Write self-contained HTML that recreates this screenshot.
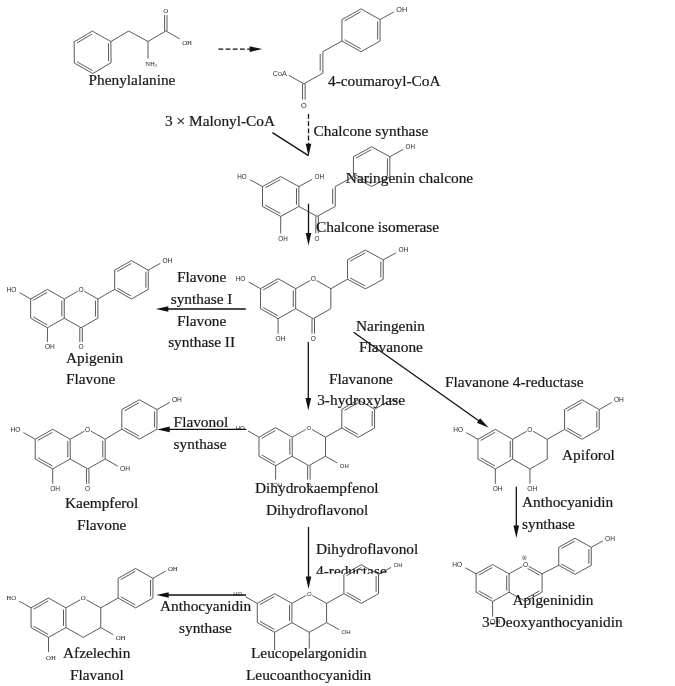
<!DOCTYPE html>
<html><head><meta charset="utf-8"><title>Flavonoid biosynthesis pathway</title>
<style>html,body{margin:0;padding:0;background:#fff}svg{display:block;will-change:transform}</style></head>
<body><svg width="675" height="686" viewBox="0 0 675 686" shape-rendering="geometricPrecision">
<rect width="675" height="686" fill="#fff"/>
<line x1="92.41" y1="31.10" x2="110.87" y2="41.54" stroke="#3c3c3c" stroke-width="0.85"/>
<line x1="110.87" y1="41.54" x2="111.05" y2="62.74" stroke="#3c3c3c" stroke-width="0.85"/>
<line x1="108.48" y1="43.26" x2="108.64" y2="61.06" stroke="#3c3c3c" stroke-width="0.85"/>
<line x1="111.05" y1="62.74" x2="92.79" y2="73.50" stroke="#3c3c3c" stroke-width="0.85"/>
<line x1="92.79" y1="73.50" x2="74.33" y2="63.06" stroke="#3c3c3c" stroke-width="0.85"/>
<line x1="92.49" y1="70.57" x2="76.99" y2="61.81" stroke="#3c3c3c" stroke-width="0.85"/>
<line x1="74.33" y1="63.06" x2="74.15" y2="41.86" stroke="#3c3c3c" stroke-width="0.85"/>
<line x1="74.15" y1="41.86" x2="92.41" y2="31.10" stroke="#3c3c3c" stroke-width="0.85"/>
<line x1="76.83" y1="43.07" x2="92.17" y2="34.03" stroke="#3c3c3c" stroke-width="0.85"/>
<line x1="110.87" y1="41.54" x2="128.70" y2="31.00" stroke="#3c3c3c" stroke-width="0.85"/>
<line x1="128.70" y1="31.00" x2="148.00" y2="41.50" stroke="#3c3c3c" stroke-width="0.85"/>
<line x1="148.00" y1="41.50" x2="165.80" y2="31.00" stroke="#3c3c3c" stroke-width="0.85"/>
<line x1="165.80" y1="31.00" x2="179.58" y2="38.79" stroke="#3c3c3c" stroke-width="0.85"/>
<line x1="164.60" y1="31.00" x2="164.60" y2="15.10" stroke="#3c3c3c" stroke-width="0.85"/>
<line x1="167.00" y1="31.00" x2="167.00" y2="15.10" stroke="#3c3c3c" stroke-width="0.85"/>
<text x="163.35" y="12.75" font-size="6.8" font-family='"Liberation Serif",serif' text-anchor="start" fill="#262626">O</text>
<text x="182.15" y="44.65" font-size="6.8" font-family='"Liberation Serif",serif' text-anchor="start" fill="#262626">OH</text>
<line x1="148.00" y1="41.50" x2="148.00" y2="58.50" stroke="#3c3c3c" stroke-width="0.85"/>
<text x="145.2" y="65.9" font-size="6.8" font-family='"Liberation Serif",serif' fill="#333">NH<tspan font-size="4.6" dy="1.4">2</tspan></text>
<line x1="361.00" y1="8.90" x2="380.05" y2="19.60" stroke="#3c3c3c" stroke-width="0.85"/>
<line x1="380.05" y1="19.60" x2="380.05" y2="41.00" stroke="#3c3c3c" stroke-width="0.85"/>
<line x1="377.65" y1="21.30" x2="377.65" y2="39.30" stroke="#3c3c3c" stroke-width="0.85"/>
<line x1="380.05" y1="41.00" x2="361.00" y2="51.70" stroke="#3c3c3c" stroke-width="0.85"/>
<line x1="361.00" y1="51.70" x2="341.95" y2="41.00" stroke="#3c3c3c" stroke-width="0.85"/>
<line x1="360.69" y1="48.77" x2="344.60" y2="39.74" stroke="#3c3c3c" stroke-width="0.85"/>
<line x1="341.95" y1="41.00" x2="341.95" y2="19.60" stroke="#3c3c3c" stroke-width="0.85"/>
<line x1="341.95" y1="19.60" x2="361.00" y2="8.90" stroke="#3c3c3c" stroke-width="0.85"/>
<line x1="344.60" y1="20.86" x2="360.69" y2="11.83" stroke="#3c3c3c" stroke-width="0.85"/>
<line x1="380.05" y1="19.60" x2="393.70" y2="11.94" stroke="#3c3c3c" stroke-width="0.85"/>
<text x="396.27" y="11.53" font-size="7.3" font-family='"Liberation Sans",sans-serif' text-anchor="start" fill="#262626">OH</text>
<line x1="341.95" y1="41.00" x2="322.89" y2="51.70" stroke="#3c3c3c" stroke-width="0.85"/>
<line x1="322.89" y1="51.70" x2="322.89" y2="73.10" stroke="#3c3c3c" stroke-width="0.85"/>
<line x1="320.19" y1="54.10" x2="320.19" y2="70.70" stroke="#3c3c3c" stroke-width="0.85"/>
<line x1="322.89" y1="73.10" x2="303.84" y2="83.80" stroke="#3c3c3c" stroke-width="0.85"/>
<line x1="305.14" y1="83.80" x2="305.14" y2="99.60" stroke="#3c3c3c" stroke-width="0.85"/>
<line x1="302.54" y1="83.80" x2="302.54" y2="99.60" stroke="#3c3c3c" stroke-width="0.85"/>
<text x="301.00" y="107.83" font-size="7.3" font-family='"Liberation Sans",sans-serif' text-anchor="start" fill="#262626">O</text>
<line x1="303.84" y1="83.80" x2="288.71" y2="75.30" stroke="#3c3c3c" stroke-width="0.85"/>
<text x="286.9" y="75.70" font-size="7.3" font-family='"Liberation Sans",sans-serif' text-anchor="end" fill="#333">CoA</text>
<line x1="262.51" y1="186.55" x2="280.70" y2="176.60" stroke="#3c3c3c" stroke-width="0.85"/>
<line x1="265.16" y1="187.84" x2="280.36" y2="179.52" stroke="#3c3c3c" stroke-width="0.85"/>
<line x1="280.70" y1="176.60" x2="298.89" y2="186.55" stroke="#3c3c3c" stroke-width="0.85"/>
<line x1="298.89" y1="186.55" x2="298.89" y2="206.45" stroke="#3c3c3c" stroke-width="0.85"/>
<line x1="296.49" y1="188.25" x2="296.49" y2="204.75" stroke="#3c3c3c" stroke-width="0.85"/>
<line x1="298.89" y1="206.45" x2="280.70" y2="216.40" stroke="#3c3c3c" stroke-width="0.85"/>
<line x1="280.70" y1="216.40" x2="262.51" y2="206.45" stroke="#3c3c3c" stroke-width="0.85"/>
<line x1="280.36" y1="213.48" x2="265.16" y2="205.16" stroke="#3c3c3c" stroke-width="0.85"/>
<line x1="262.51" y1="206.45" x2="262.51" y2="186.55" stroke="#3c3c3c" stroke-width="0.85"/>
<line x1="262.51" y1="186.55" x2="250.03" y2="179.72" stroke="#3c3c3c" stroke-width="0.85"/>
<text x="246.78" y="178.87" font-size="6.3" font-family='"Liberation Sans",sans-serif' text-anchor="end" fill="#262626">HO</text>
<line x1="280.70" y1="216.40" x2="280.70" y2="233.29" stroke="#3c3c3c" stroke-width="0.85"/>
<text x="278.25" y="240.56" font-size="6.3" font-family='"Liberation Sans",sans-serif' text-anchor="start" fill="#262626">OH</text>
<line x1="353.45" y1="176.60" x2="353.45" y2="156.70" stroke="#3c3c3c" stroke-width="0.85"/>
<line x1="353.45" y1="156.70" x2="371.63" y2="146.75" stroke="#3c3c3c" stroke-width="0.85"/>
<line x1="356.09" y1="157.99" x2="371.29" y2="149.67" stroke="#3c3c3c" stroke-width="0.85"/>
<line x1="371.63" y1="146.75" x2="389.82" y2="156.70" stroke="#3c3c3c" stroke-width="0.85"/>
<line x1="389.82" y1="156.70" x2="389.82" y2="176.60" stroke="#3c3c3c" stroke-width="0.85"/>
<line x1="387.42" y1="158.40" x2="387.42" y2="174.90" stroke="#3c3c3c" stroke-width="0.85"/>
<line x1="389.82" y1="176.60" x2="371.63" y2="186.55" stroke="#3c3c3c" stroke-width="0.85"/>
<line x1="371.63" y1="186.55" x2="353.45" y2="176.60" stroke="#3c3c3c" stroke-width="0.85"/>
<line x1="371.29" y1="183.63" x2="356.09" y2="175.31" stroke="#3c3c3c" stroke-width="0.85"/>
<line x1="389.82" y1="156.70" x2="403.18" y2="149.39" stroke="#3c3c3c" stroke-width="0.85"/>
<text x="405.56" y="149.02" font-size="6.3" font-family='"Liberation Sans",sans-serif' text-anchor="start" fill="#262626">OH</text>
<line x1="298.89" y1="186.55" x2="312.25" y2="179.24" stroke="#3c3c3c" stroke-width="0.85"/>
<text x="314.62" y="178.87" font-size="6.3" font-family='"Liberation Sans",sans-serif' text-anchor="start" fill="#262626">OH</text>
<line x1="298.89" y1="206.45" x2="317.07" y2="216.40" stroke="#3c3c3c" stroke-width="0.85"/>
<line x1="318.32" y1="216.40" x2="318.32" y2="233.29" stroke="#3c3c3c" stroke-width="0.85"/>
<line x1="315.82" y1="216.40" x2="315.82" y2="233.29" stroke="#3c3c3c" stroke-width="0.85"/>
<text x="314.62" y="240.56" font-size="6.3" font-family='"Liberation Sans",sans-serif' text-anchor="start" fill="#262626">O</text>
<line x1="317.07" y1="216.40" x2="335.26" y2="206.45" stroke="#3c3c3c" stroke-width="0.85"/>
<line x1="335.26" y1="206.45" x2="335.26" y2="186.55" stroke="#3c3c3c" stroke-width="0.85"/>
<line x1="332.66" y1="204.25" x2="332.66" y2="188.75" stroke="#3c3c3c" stroke-width="0.85"/>
<line x1="335.26" y1="186.55" x2="353.45" y2="176.60" stroke="#3c3c3c" stroke-width="0.85"/>
<line x1="260.52" y1="288.70" x2="278.10" y2="278.70" stroke="#3c3c3c" stroke-width="0.85"/>
<line x1="263.18" y1="289.95" x2="277.81" y2="281.63" stroke="#3c3c3c" stroke-width="0.85"/>
<line x1="278.10" y1="278.70" x2="295.68" y2="288.70" stroke="#3c3c3c" stroke-width="0.85"/>
<line x1="295.68" y1="288.70" x2="295.68" y2="308.70" stroke="#3c3c3c" stroke-width="0.85"/>
<line x1="293.28" y1="290.40" x2="293.28" y2="307.00" stroke="#3c3c3c" stroke-width="0.85"/>
<line x1="295.68" y1="308.70" x2="278.10" y2="318.70" stroke="#3c3c3c" stroke-width="0.85"/>
<line x1="278.10" y1="318.70" x2="260.52" y2="308.70" stroke="#3c3c3c" stroke-width="0.85"/>
<line x1="277.81" y1="315.77" x2="263.18" y2="307.45" stroke="#3c3c3c" stroke-width="0.85"/>
<line x1="260.52" y1="308.70" x2="260.52" y2="288.70" stroke="#3c3c3c" stroke-width="0.85"/>
<line x1="260.52" y1="288.70" x2="248.59" y2="281.91" stroke="#3c3c3c" stroke-width="0.85"/>
<text x="245.51" y="281.08" font-size="6.6" font-family='"Liberation Sans",sans-serif' text-anchor="end" fill="#262626">HO</text>
<line x1="278.10" y1="318.70" x2="278.10" y2="333.70" stroke="#3c3c3c" stroke-width="0.85"/>
<text x="275.53" y="341.08" font-size="6.6" font-family='"Liberation Sans",sans-serif' text-anchor="start" fill="#262626">OH</text>
<line x1="347.56" y1="279.20" x2="347.56" y2="259.80" stroke="#3c3c3c" stroke-width="0.85"/>
<line x1="347.56" y1="259.80" x2="365.40" y2="250.10" stroke="#3c3c3c" stroke-width="0.85"/>
<line x1="350.20" y1="261.10" x2="365.05" y2="253.02" stroke="#3c3c3c" stroke-width="0.85"/>
<line x1="365.40" y1="250.10" x2="383.24" y2="259.80" stroke="#3c3c3c" stroke-width="0.85"/>
<line x1="383.24" y1="259.80" x2="383.24" y2="279.20" stroke="#3c3c3c" stroke-width="0.85"/>
<line x1="380.84" y1="261.50" x2="380.84" y2="277.50" stroke="#3c3c3c" stroke-width="0.85"/>
<line x1="383.24" y1="279.20" x2="365.40" y2="288.90" stroke="#3c3c3c" stroke-width="0.85"/>
<line x1="365.40" y1="288.90" x2="347.56" y2="279.20" stroke="#3c3c3c" stroke-width="0.85"/>
<line x1="365.05" y1="285.98" x2="350.20" y2="277.90" stroke="#3c3c3c" stroke-width="0.85"/>
<line x1="383.24" y1="259.80" x2="396.25" y2="252.73" stroke="#3c3c3c" stroke-width="0.85"/>
<text x="398.51" y="252.48" font-size="6.6" font-family='"Liberation Sans",sans-serif' text-anchor="start" fill="#262626">OH</text>
<line x1="295.68" y1="288.70" x2="310.13" y2="280.48" stroke="#3c3c3c" stroke-width="0.85"/>
<line x1="316.39" y1="280.48" x2="330.84" y2="288.70" stroke="#3c3c3c" stroke-width="0.85"/>
<text x="310.69" y="281.08" font-size="6.6" font-family='"Liberation Sans",sans-serif' text-anchor="start" fill="#262626">O</text>
<line x1="330.84" y1="288.70" x2="330.84" y2="308.70" stroke="#3c3c3c" stroke-width="0.85"/>
<line x1="330.84" y1="308.70" x2="313.26" y2="318.70" stroke="#3c3c3c" stroke-width="0.85"/>
<line x1="313.26" y1="318.70" x2="295.68" y2="308.70" stroke="#3c3c3c" stroke-width="0.85"/>
<line x1="330.84" y1="288.70" x2="347.56" y2="279.20" stroke="#3c3c3c" stroke-width="0.85"/>
<line x1="314.51" y1="318.70" x2="314.51" y2="333.70" stroke="#3c3c3c" stroke-width="0.85"/>
<line x1="312.01" y1="318.70" x2="312.01" y2="333.70" stroke="#3c3c3c" stroke-width="0.85"/>
<text x="310.69" y="341.08" font-size="6.6" font-family='"Liberation Sans",sans-serif' text-anchor="start" fill="#262626">O</text>
<line x1="30.65" y1="299.00" x2="47.45" y2="289.40" stroke="#3c3c3c" stroke-width="0.85"/>
<line x1="33.32" y1="300.24" x2="47.16" y2="292.33" stroke="#3c3c3c" stroke-width="0.85"/>
<line x1="47.45" y1="289.40" x2="64.25" y2="299.00" stroke="#3c3c3c" stroke-width="0.85"/>
<line x1="64.25" y1="299.00" x2="64.25" y2="318.20" stroke="#3c3c3c" stroke-width="0.85"/>
<line x1="61.85" y1="300.70" x2="61.85" y2="316.50" stroke="#3c3c3c" stroke-width="0.85"/>
<line x1="64.25" y1="318.20" x2="47.45" y2="327.80" stroke="#3c3c3c" stroke-width="0.85"/>
<line x1="47.45" y1="327.80" x2="30.65" y2="318.20" stroke="#3c3c3c" stroke-width="0.85"/>
<line x1="47.16" y1="324.87" x2="33.32" y2="316.96" stroke="#3c3c3c" stroke-width="0.85"/>
<line x1="30.65" y1="318.20" x2="30.65" y2="299.00" stroke="#3c3c3c" stroke-width="0.85"/>
<line x1="30.65" y1="299.00" x2="19.49" y2="292.62" stroke="#3c3c3c" stroke-width="0.85"/>
<text x="16.42" y="291.78" font-size="6.6" font-family='"Liberation Sans",sans-serif' text-anchor="end" fill="#262626">HO</text>
<line x1="47.45" y1="327.80" x2="47.45" y2="342.00" stroke="#3c3c3c" stroke-width="0.85"/>
<text x="44.88" y="349.38" font-size="6.6" font-family='"Liberation Sans",sans-serif' text-anchor="start" fill="#262626">OH</text>
<line x1="114.65" y1="289.40" x2="114.65" y2="270.20" stroke="#3c3c3c" stroke-width="0.85"/>
<line x1="114.65" y1="270.20" x2="131.45" y2="260.60" stroke="#3c3c3c" stroke-width="0.85"/>
<line x1="117.32" y1="271.44" x2="131.17" y2="263.53" stroke="#3c3c3c" stroke-width="0.85"/>
<line x1="131.45" y1="260.60" x2="148.26" y2="270.20" stroke="#3c3c3c" stroke-width="0.85"/>
<line x1="148.26" y1="270.20" x2="148.26" y2="289.40" stroke="#3c3c3c" stroke-width="0.85"/>
<line x1="145.86" y1="271.90" x2="145.86" y2="287.70" stroke="#3c3c3c" stroke-width="0.85"/>
<line x1="148.26" y1="289.40" x2="131.45" y2="299.00" stroke="#3c3c3c" stroke-width="0.85"/>
<line x1="131.45" y1="299.00" x2="114.65" y2="289.40" stroke="#3c3c3c" stroke-width="0.85"/>
<line x1="131.17" y1="296.07" x2="117.32" y2="288.16" stroke="#3c3c3c" stroke-width="0.85"/>
<line x1="148.26" y1="270.20" x2="160.28" y2="263.33" stroke="#3c3c3c" stroke-width="0.85"/>
<text x="162.49" y="262.98" font-size="6.6" font-family='"Liberation Sans",sans-serif' text-anchor="start" fill="#262626">OH</text>
<line x1="64.25" y1="299.00" x2="77.93" y2="291.19" stroke="#3c3c3c" stroke-width="0.85"/>
<line x1="84.18" y1="291.19" x2="97.85" y2="299.00" stroke="#3c3c3c" stroke-width="0.85"/>
<text x="78.48" y="291.78" font-size="6.6" font-family='"Liberation Sans",sans-serif' text-anchor="start" fill="#262626">O</text>
<line x1="97.85" y1="299.00" x2="97.85" y2="318.20" stroke="#3c3c3c" stroke-width="0.85"/>
<line x1="95.45" y1="300.70" x2="95.45" y2="316.50" stroke="#3c3c3c" stroke-width="0.85"/>
<line x1="97.85" y1="318.20" x2="81.05" y2="327.80" stroke="#3c3c3c" stroke-width="0.85"/>
<line x1="81.05" y1="327.80" x2="64.25" y2="318.20" stroke="#3c3c3c" stroke-width="0.85"/>
<line x1="97.85" y1="299.00" x2="114.65" y2="289.40" stroke="#3c3c3c" stroke-width="0.85"/>
<line x1="82.30" y1="327.80" x2="82.30" y2="342.00" stroke="#3c3c3c" stroke-width="0.85"/>
<line x1="79.80" y1="327.80" x2="79.80" y2="342.00" stroke="#3c3c3c" stroke-width="0.85"/>
<text x="78.48" y="349.38" font-size="6.6" font-family='"Liberation Sans",sans-serif' text-anchor="start" fill="#262626">O</text>
<line x1="35.21" y1="439.20" x2="52.70" y2="429.30" stroke="#3c3c3c" stroke-width="0.85"/>
<line x1="37.87" y1="440.45" x2="52.40" y2="432.23" stroke="#3c3c3c" stroke-width="0.85"/>
<line x1="52.70" y1="429.30" x2="70.19" y2="439.20" stroke="#3c3c3c" stroke-width="0.85"/>
<line x1="70.19" y1="439.20" x2="70.19" y2="459.00" stroke="#3c3c3c" stroke-width="0.85"/>
<line x1="67.79" y1="440.90" x2="67.79" y2="457.30" stroke="#3c3c3c" stroke-width="0.85"/>
<line x1="70.19" y1="459.00" x2="52.70" y2="468.90" stroke="#3c3c3c" stroke-width="0.85"/>
<line x1="52.70" y1="468.90" x2="35.21" y2="459.00" stroke="#3c3c3c" stroke-width="0.85"/>
<line x1="52.40" y1="465.97" x2="37.87" y2="457.75" stroke="#3c3c3c" stroke-width="0.85"/>
<line x1="35.21" y1="459.00" x2="35.21" y2="439.20" stroke="#3c3c3c" stroke-width="0.85"/>
<line x1="35.21" y1="439.20" x2="23.37" y2="432.50" stroke="#3c3c3c" stroke-width="0.85"/>
<text x="20.28" y="431.68" font-size="6.6" font-family='"Liberation Sans",sans-serif' text-anchor="end" fill="#262626">HO</text>
<line x1="52.70" y1="468.90" x2="52.70" y2="483.70" stroke="#3c3c3c" stroke-width="0.85"/>
<text x="50.13" y="491.08" font-size="6.6" font-family='"Liberation Sans",sans-serif' text-anchor="start" fill="#262626">OH</text>
<line x1="121.82" y1="429.22" x2="121.82" y2="409.57" stroke="#3c3c3c" stroke-width="0.85"/>
<line x1="121.82" y1="409.57" x2="139.40" y2="399.75" stroke="#3c3c3c" stroke-width="0.85"/>
<line x1="124.47" y1="410.84" x2="139.09" y2="402.67" stroke="#3c3c3c" stroke-width="0.85"/>
<line x1="139.40" y1="399.75" x2="156.98" y2="409.57" stroke="#3c3c3c" stroke-width="0.85"/>
<line x1="156.98" y1="409.57" x2="156.98" y2="429.22" stroke="#3c3c3c" stroke-width="0.85"/>
<line x1="154.58" y1="411.27" x2="154.58" y2="427.52" stroke="#3c3c3c" stroke-width="0.85"/>
<line x1="156.98" y1="429.22" x2="139.40" y2="439.05" stroke="#3c3c3c" stroke-width="0.85"/>
<line x1="139.40" y1="439.05" x2="121.82" y2="429.22" stroke="#3c3c3c" stroke-width="0.85"/>
<line x1="139.09" y1="436.13" x2="124.47" y2="427.96" stroke="#3c3c3c" stroke-width="0.85"/>
<line x1="156.98" y1="409.57" x2="169.76" y2="402.43" stroke="#3c3c3c" stroke-width="0.85"/>
<text x="171.99" y="402.13" font-size="6.6" font-family='"Liberation Sans",sans-serif' text-anchor="start" fill="#262626">OH</text>
<line x1="70.19" y1="439.20" x2="84.55" y2="431.07" stroke="#3c3c3c" stroke-width="0.85"/>
<line x1="90.82" y1="431.07" x2="105.18" y2="439.20" stroke="#3c3c3c" stroke-width="0.85"/>
<text x="85.12" y="431.68" font-size="6.6" font-family='"Liberation Sans",sans-serif' text-anchor="start" fill="#262626">O</text>
<line x1="105.18" y1="439.20" x2="105.18" y2="459.00" stroke="#3c3c3c" stroke-width="0.85"/>
<line x1="102.78" y1="440.90" x2="102.78" y2="457.30" stroke="#3c3c3c" stroke-width="0.85"/>
<line x1="105.18" y1="459.00" x2="87.69" y2="468.90" stroke="#3c3c3c" stroke-width="0.85"/>
<line x1="87.69" y1="468.90" x2="70.19" y2="459.00" stroke="#3c3c3c" stroke-width="0.85"/>
<line x1="105.18" y1="439.20" x2="121.82" y2="429.22" stroke="#3c3c3c" stroke-width="0.85"/>
<line x1="88.94" y1="468.90" x2="88.94" y2="483.70" stroke="#3c3c3c" stroke-width="0.85"/>
<line x1="86.44" y1="468.90" x2="86.44" y2="483.70" stroke="#3c3c3c" stroke-width="0.85"/>
<text x="85.12" y="491.08" font-size="6.6" font-family='"Liberation Sans",sans-serif' text-anchor="start" fill="#262626">O</text>
<line x1="105.18" y1="459.00" x2="117.89" y2="466.19" stroke="#3c3c3c" stroke-width="0.85"/>
<text x="120.11" y="471.28" font-size="6.6" font-family='"Liberation Sans",sans-serif' text-anchor="start" fill="#262626">OH</text>
<line x1="258.97" y1="437.20" x2="275.60" y2="427.70" stroke="#3c3c3c" stroke-width="0.85"/>
<line x1="261.64" y1="438.44" x2="275.31" y2="430.63" stroke="#3c3c3c" stroke-width="0.85"/>
<line x1="275.60" y1="427.70" x2="292.23" y2="437.20" stroke="#3c3c3c" stroke-width="0.85"/>
<line x1="292.23" y1="437.20" x2="292.23" y2="456.20" stroke="#3c3c3c" stroke-width="0.85"/>
<line x1="289.83" y1="438.90" x2="289.83" y2="454.50" stroke="#3c3c3c" stroke-width="0.85"/>
<line x1="292.23" y1="456.20" x2="275.60" y2="465.70" stroke="#3c3c3c" stroke-width="0.85"/>
<line x1="275.60" y1="465.70" x2="258.97" y2="456.20" stroke="#3c3c3c" stroke-width="0.85"/>
<line x1="275.31" y1="462.77" x2="261.64" y2="454.96" stroke="#3c3c3c" stroke-width="0.85"/>
<line x1="258.97" y1="456.20" x2="258.97" y2="437.20" stroke="#3c3c3c" stroke-width="0.85"/>
<line x1="258.97" y1="437.20" x2="247.99" y2="430.92" stroke="#3c3c3c" stroke-width="0.85"/>
<text x="244.68" y="429.86" font-size="6.0" font-family='"Liberation Sans",sans-serif' text-anchor="end" fill="#262626">HO</text>
<line x1="275.60" y1="465.70" x2="275.60" y2="479.70" stroke="#3c3c3c" stroke-width="0.85"/>
<text x="273.27" y="486.86" font-size="6.0" font-family='"Liberation Sans",sans-serif' text-anchor="start" fill="#262626">OH</text>
<line x1="341.83" y1="428.00" x2="341.83" y2="409.20" stroke="#3c3c3c" stroke-width="0.85"/>
<line x1="341.83" y1="409.20" x2="358.20" y2="399.80" stroke="#3c3c3c" stroke-width="0.85"/>
<line x1="344.50" y1="410.43" x2="357.92" y2="402.73" stroke="#3c3c3c" stroke-width="0.85"/>
<line x1="358.20" y1="399.80" x2="374.57" y2="409.20" stroke="#3c3c3c" stroke-width="0.85"/>
<line x1="374.57" y1="409.20" x2="374.57" y2="428.00" stroke="#3c3c3c" stroke-width="0.85"/>
<line x1="372.17" y1="410.90" x2="372.17" y2="426.30" stroke="#3c3c3c" stroke-width="0.85"/>
<line x1="374.57" y1="428.00" x2="358.20" y2="437.40" stroke="#3c3c3c" stroke-width="0.85"/>
<line x1="358.20" y1="437.40" x2="341.83" y2="428.00" stroke="#3c3c3c" stroke-width="0.85"/>
<line x1="357.92" y1="434.47" x2="344.50" y2="426.77" stroke="#3c3c3c" stroke-width="0.85"/>
<line x1="374.57" y1="409.20" x2="386.17" y2="402.54" stroke="#3c3c3c" stroke-width="0.85"/>
<text x="388.60" y="401.96" font-size="6.0" font-family='"Liberation Sans",sans-serif' text-anchor="start" fill="#262626">OH</text>
<line x1="292.23" y1="437.20" x2="305.73" y2="429.49" stroke="#3c3c3c" stroke-width="0.85"/>
<line x1="311.98" y1="429.49" x2="325.48" y2="437.20" stroke="#3c3c3c" stroke-width="0.85"/>
<text x="306.52" y="429.86" font-size="6.0" font-family='"Liberation Sans",sans-serif' text-anchor="start" fill="#262626">O</text>
<line x1="325.48" y1="437.20" x2="325.48" y2="456.20" stroke="#3c3c3c" stroke-width="0.85"/>
<line x1="325.48" y1="456.20" x2="308.86" y2="465.70" stroke="#3c3c3c" stroke-width="0.85"/>
<line x1="308.86" y1="465.70" x2="292.23" y2="456.20" stroke="#3c3c3c" stroke-width="0.85"/>
<line x1="325.48" y1="437.20" x2="341.83" y2="428.00" stroke="#3c3c3c" stroke-width="0.85"/>
<line x1="310.11" y1="465.70" x2="310.11" y2="479.70" stroke="#3c3c3c" stroke-width="0.85"/>
<line x1="307.61" y1="465.70" x2="307.61" y2="479.70" stroke="#3c3c3c" stroke-width="0.85"/>
<text x="306.52" y="486.86" font-size="6.0" font-family='"Liberation Sans",sans-serif' text-anchor="start" fill="#262626">O</text>
<line x1="325.48" y1="456.20" x2="337.34" y2="462.97" stroke="#3c3c3c" stroke-width="0.85"/>
<text x="339.78" y="467.86" font-size="6.0" font-family='"Liberation Sans",sans-serif' text-anchor="start" fill="#262626">OH</text>
<line x1="477.98" y1="439.30" x2="495.30" y2="429.40" stroke="#3c3c3c" stroke-width="0.85"/>
<line x1="480.65" y1="440.54" x2="495.02" y2="432.33" stroke="#3c3c3c" stroke-width="0.85"/>
<line x1="495.30" y1="429.40" x2="512.62" y2="439.30" stroke="#3c3c3c" stroke-width="0.85"/>
<line x1="512.62" y1="439.30" x2="512.62" y2="459.10" stroke="#3c3c3c" stroke-width="0.85"/>
<line x1="510.22" y1="441.00" x2="510.22" y2="457.40" stroke="#3c3c3c" stroke-width="0.85"/>
<line x1="512.62" y1="459.10" x2="495.30" y2="469.00" stroke="#3c3c3c" stroke-width="0.85"/>
<line x1="495.30" y1="469.00" x2="477.98" y2="459.10" stroke="#3c3c3c" stroke-width="0.85"/>
<line x1="495.02" y1="466.07" x2="480.65" y2="457.86" stroke="#3c3c3c" stroke-width="0.85"/>
<line x1="477.98" y1="459.10" x2="477.98" y2="439.30" stroke="#3c3c3c" stroke-width="0.85"/>
<line x1="477.98" y1="439.30" x2="466.30" y2="432.63" stroke="#3c3c3c" stroke-width="0.85"/>
<text x="463.23" y="431.78" font-size="6.6" font-family='"Liberation Sans",sans-serif' text-anchor="end" fill="#262626">HO</text>
<line x1="495.30" y1="469.00" x2="495.30" y2="483.80" stroke="#3c3c3c" stroke-width="0.85"/>
<text x="492.73" y="491.18" font-size="6.6" font-family='"Liberation Sans",sans-serif' text-anchor="start" fill="#262626">OH</text>
<line x1="564.58" y1="429.40" x2="564.58" y2="409.60" stroke="#3c3c3c" stroke-width="0.85"/>
<line x1="564.58" y1="409.60" x2="581.90" y2="399.70" stroke="#3c3c3c" stroke-width="0.85"/>
<line x1="567.25" y1="410.84" x2="581.62" y2="402.63" stroke="#3c3c3c" stroke-width="0.85"/>
<line x1="581.90" y1="399.70" x2="599.22" y2="409.60" stroke="#3c3c3c" stroke-width="0.85"/>
<line x1="599.22" y1="409.60" x2="599.22" y2="429.40" stroke="#3c3c3c" stroke-width="0.85"/>
<line x1="596.82" y1="411.30" x2="596.82" y2="427.70" stroke="#3c3c3c" stroke-width="0.85"/>
<line x1="599.22" y1="429.40" x2="581.90" y2="439.30" stroke="#3c3c3c" stroke-width="0.85"/>
<line x1="581.90" y1="439.30" x2="564.58" y2="429.40" stroke="#3c3c3c" stroke-width="0.85"/>
<line x1="581.62" y1="436.37" x2="567.25" y2="428.16" stroke="#3c3c3c" stroke-width="0.85"/>
<line x1="599.22" y1="409.60" x2="611.77" y2="402.43" stroke="#3c3c3c" stroke-width="0.85"/>
<text x="613.98" y="402.08" font-size="6.6" font-family='"Liberation Sans",sans-serif' text-anchor="start" fill="#262626">OH</text>
<line x1="512.62" y1="439.30" x2="526.82" y2="431.19" stroke="#3c3c3c" stroke-width="0.85"/>
<line x1="533.07" y1="431.19" x2="547.26" y2="439.30" stroke="#3c3c3c" stroke-width="0.85"/>
<text x="527.37" y="431.78" font-size="6.6" font-family='"Liberation Sans",sans-serif' text-anchor="start" fill="#262626">O</text>
<line x1="547.26" y1="439.30" x2="547.26" y2="459.10" stroke="#3c3c3c" stroke-width="0.85"/>
<line x1="547.26" y1="459.10" x2="529.94" y2="469.00" stroke="#3c3c3c" stroke-width="0.85"/>
<line x1="529.94" y1="469.00" x2="512.62" y2="459.10" stroke="#3c3c3c" stroke-width="0.85"/>
<line x1="547.26" y1="439.30" x2="564.58" y2="429.40" stroke="#3c3c3c" stroke-width="0.85"/>
<line x1="529.94" y1="469.00" x2="529.94" y2="483.80" stroke="#3c3c3c" stroke-width="0.85"/>
<text x="527.37" y="491.18" font-size="6.6" font-family='"Liberation Sans",sans-serif' text-anchor="start" fill="#262626">OH</text>
<line x1="476.10" y1="573.80" x2="492.60" y2="564.60" stroke="#3c3c3c" stroke-width="0.85"/>
<line x1="478.76" y1="575.07" x2="492.28" y2="567.52" stroke="#3c3c3c" stroke-width="0.85"/>
<line x1="492.60" y1="564.60" x2="509.10" y2="573.80" stroke="#3c3c3c" stroke-width="0.85"/>
<line x1="509.10" y1="573.80" x2="509.10" y2="592.20" stroke="#3c3c3c" stroke-width="0.85"/>
<line x1="506.70" y1="575.50" x2="506.70" y2="590.50" stroke="#3c3c3c" stroke-width="0.85"/>
<line x1="509.10" y1="592.20" x2="492.60" y2="601.40" stroke="#3c3c3c" stroke-width="0.85"/>
<line x1="492.60" y1="601.40" x2="476.10" y2="592.20" stroke="#3c3c3c" stroke-width="0.85"/>
<line x1="492.28" y1="598.48" x2="478.76" y2="590.93" stroke="#3c3c3c" stroke-width="0.85"/>
<line x1="476.10" y1="592.20" x2="476.10" y2="573.80" stroke="#3c3c3c" stroke-width="0.85"/>
<line x1="476.10" y1="573.80" x2="465.28" y2="567.77" stroke="#3c3c3c" stroke-width="0.85"/>
<text x="462.17" y="566.98" font-size="6.6" font-family='"Liberation Sans",sans-serif' text-anchor="end" fill="#262626">HO</text>
<line x1="492.60" y1="601.40" x2="492.60" y2="616.64" stroke="#3c3c3c" stroke-width="0.85"/>
<text x="490.03" y="624.02" font-size="6.6" font-family='"Liberation Sans",sans-serif' text-anchor="start" fill="#262626">OH</text>
<line x1="558.72" y1="565.30" x2="558.72" y2="547.30" stroke="#3c3c3c" stroke-width="0.85"/>
<line x1="558.72" y1="547.30" x2="575.00" y2="538.30" stroke="#3c3c3c" stroke-width="0.85"/>
<line x1="561.37" y1="548.58" x2="574.67" y2="541.22" stroke="#3c3c3c" stroke-width="0.85"/>
<line x1="575.00" y1="538.30" x2="591.28" y2="547.30" stroke="#3c3c3c" stroke-width="0.85"/>
<line x1="591.28" y1="547.30" x2="591.28" y2="565.30" stroke="#3c3c3c" stroke-width="0.85"/>
<line x1="588.88" y1="549.00" x2="588.88" y2="563.60" stroke="#3c3c3c" stroke-width="0.85"/>
<line x1="591.28" y1="565.30" x2="575.00" y2="574.30" stroke="#3c3c3c" stroke-width="0.85"/>
<line x1="575.00" y1="574.30" x2="558.72" y2="565.30" stroke="#3c3c3c" stroke-width="0.85"/>
<line x1="574.67" y1="571.38" x2="561.37" y2="564.02" stroke="#3c3c3c" stroke-width="0.85"/>
<line x1="591.28" y1="547.30" x2="602.75" y2="540.96" stroke="#3c3c3c" stroke-width="0.85"/>
<text x="605.00" y="540.68" font-size="6.6" font-family='"Liberation Sans",sans-serif' text-anchor="start" fill="#262626">OH</text>
<line x1="509.10" y1="573.80" x2="522.45" y2="566.35" stroke="#3c3c3c" stroke-width="0.85"/>
<line x1="528.74" y1="566.35" x2="542.09" y2="573.80" stroke="#3c3c3c" stroke-width="0.85"/>
<line x1="527.57" y1="568.45" x2="539.44" y2="575.07" stroke="#3c3c3c" stroke-width="0.85"/>
<line x1="542.09" y1="573.80" x2="542.09" y2="592.20" stroke="#3c3c3c" stroke-width="0.85"/>
<line x1="542.09" y1="592.20" x2="525.60" y2="601.40" stroke="#3c3c3c" stroke-width="0.85"/>
<line x1="539.44" y1="590.93" x2="525.91" y2="598.48" stroke="#3c3c3c" stroke-width="0.85"/>
<line x1="525.60" y1="601.40" x2="509.10" y2="592.20" stroke="#3c3c3c" stroke-width="0.85"/>
<text x="523.03" y="566.98" font-size="6.6" font-family='"Liberation Sans",sans-serif' text-anchor="start" fill="#262626">O</text>
<circle cx="524.30" cy="557.80" r="2.0" fill="none" stroke="#444" stroke-width="0.5"/>
<line x1="523.10" y1="557.80" x2="525.50" y2="557.80" stroke="#3c3c3c" stroke-width="0.5"/>
<line x1="524.30" y1="556.60" x2="524.30" y2="559.00" stroke="#3c3c3c" stroke-width="0.5"/>
<line x1="542.09" y1="573.80" x2="558.72" y2="565.30" stroke="#3c3c3c" stroke-width="0.85"/>
<line x1="257.28" y1="603.35" x2="274.60" y2="593.70" stroke="#3c3c3c" stroke-width="0.85"/>
<line x1="259.93" y1="604.62" x2="274.28" y2="596.62" stroke="#3c3c3c" stroke-width="0.85"/>
<line x1="274.60" y1="593.70" x2="291.92" y2="603.35" stroke="#3c3c3c" stroke-width="0.85"/>
<line x1="291.92" y1="603.35" x2="291.92" y2="622.65" stroke="#3c3c3c" stroke-width="0.85"/>
<line x1="289.52" y1="605.05" x2="289.52" y2="620.95" stroke="#3c3c3c" stroke-width="0.85"/>
<line x1="291.92" y1="622.65" x2="274.60" y2="632.30" stroke="#3c3c3c" stroke-width="0.85"/>
<line x1="274.60" y1="632.30" x2="257.28" y2="622.65" stroke="#3c3c3c" stroke-width="0.85"/>
<line x1="274.28" y1="629.38" x2="259.93" y2="621.38" stroke="#3c3c3c" stroke-width="0.85"/>
<line x1="257.28" y1="622.65" x2="257.28" y2="603.35" stroke="#3c3c3c" stroke-width="0.85"/>
<line x1="257.28" y1="603.35" x2="245.64" y2="596.86" stroke="#3c3c3c" stroke-width="0.85"/>
<text x="242.29" y="595.86" font-size="6.0" font-family='"Liberation Sans",sans-serif' text-anchor="end" fill="#262626">HO</text>
<line x1="274.60" y1="632.30" x2="274.60" y2="650.10" stroke="#3c3c3c" stroke-width="0.85"/>
<line x1="343.88" y1="593.70" x2="343.88" y2="574.40" stroke="#3c3c3c" stroke-width="0.85"/>
<line x1="343.88" y1="574.40" x2="361.20" y2="564.75" stroke="#3c3c3c" stroke-width="0.85"/>
<line x1="346.54" y1="575.67" x2="360.89" y2="567.67" stroke="#3c3c3c" stroke-width="0.85"/>
<line x1="361.20" y1="564.75" x2="378.52" y2="574.40" stroke="#3c3c3c" stroke-width="0.85"/>
<line x1="378.52" y1="574.40" x2="378.52" y2="593.70" stroke="#3c3c3c" stroke-width="0.85"/>
<line x1="376.12" y1="576.10" x2="376.12" y2="592.00" stroke="#3c3c3c" stroke-width="0.85"/>
<line x1="378.52" y1="593.70" x2="361.20" y2="603.35" stroke="#3c3c3c" stroke-width="0.85"/>
<line x1="361.20" y1="603.35" x2="343.88" y2="593.70" stroke="#3c3c3c" stroke-width="0.85"/>
<line x1="360.89" y1="600.43" x2="346.54" y2="592.43" stroke="#3c3c3c" stroke-width="0.85"/>
<line x1="378.52" y1="574.40" x2="391.04" y2="567.43" stroke="#3c3c3c" stroke-width="0.85"/>
<text x="393.51" y="566.91" font-size="6.0" font-family='"Liberation Sans",sans-serif' text-anchor="start" fill="#262626">OH</text>
<line x1="291.92" y1="603.35" x2="306.10" y2="595.45" stroke="#3c3c3c" stroke-width="0.85"/>
<line x1="312.39" y1="595.45" x2="326.56" y2="603.35" stroke="#3c3c3c" stroke-width="0.85"/>
<text x="306.91" y="595.86" font-size="6.0" font-family='"Liberation Sans",sans-serif' text-anchor="start" fill="#262626">O</text>
<line x1="326.56" y1="603.35" x2="326.56" y2="622.65" stroke="#3c3c3c" stroke-width="0.85"/>
<line x1="326.56" y1="622.65" x2="309.24" y2="632.30" stroke="#3c3c3c" stroke-width="0.85"/>
<line x1="309.24" y1="632.30" x2="291.92" y2="622.65" stroke="#3c3c3c" stroke-width="0.85"/>
<line x1="326.56" y1="603.35" x2="343.88" y2="593.70" stroke="#3c3c3c" stroke-width="0.85"/>
<line x1="309.24" y1="632.30" x2="309.24" y2="648.60" stroke="#3c3c3c" stroke-width="0.85"/>
<line x1="326.56" y1="622.65" x2="339.08" y2="629.62" stroke="#3c3c3c" stroke-width="0.85"/>
<text x="341.55" y="634.46" font-size="6.0" font-family='"Liberation Sans",sans-serif' text-anchor="start" fill="#262626">OH</text>
<line x1="31.09" y1="607.85" x2="48.50" y2="598.00" stroke="#3c3c3c" stroke-width="0.85"/>
<line x1="33.75" y1="609.10" x2="48.20" y2="600.93" stroke="#3c3c3c" stroke-width="0.85"/>
<line x1="48.50" y1="598.00" x2="65.91" y2="607.85" stroke="#3c3c3c" stroke-width="0.85"/>
<line x1="65.91" y1="607.85" x2="65.91" y2="627.55" stroke="#3c3c3c" stroke-width="0.85"/>
<line x1="63.51" y1="609.55" x2="63.51" y2="625.85" stroke="#3c3c3c" stroke-width="0.85"/>
<line x1="65.91" y1="627.55" x2="48.50" y2="637.40" stroke="#3c3c3c" stroke-width="0.85"/>
<line x1="48.50" y1="637.40" x2="31.09" y2="627.55" stroke="#3c3c3c" stroke-width="0.85"/>
<line x1="48.20" y1="634.47" x2="33.75" y2="626.30" stroke="#3c3c3c" stroke-width="0.85"/>
<line x1="31.09" y1="627.55" x2="31.09" y2="607.85" stroke="#3c3c3c" stroke-width="0.85"/>
<line x1="31.09" y1="607.85" x2="19.34" y2="601.20" stroke="#3c3c3c" stroke-width="0.85"/>
<text x="16.14" y="600.45" font-size="6.8" font-family='"Liberation Serif",serif' text-anchor="end" fill="#262626">HO</text>
<line x1="48.50" y1="637.40" x2="48.50" y2="652.10" stroke="#3c3c3c" stroke-width="0.85"/>
<text x="46.05" y="659.55" font-size="6.8" font-family='"Liberation Serif",serif' text-anchor="start" fill="#262626">OH</text>
<line x1="118.13" y1="598.00" x2="118.13" y2="578.30" stroke="#3c3c3c" stroke-width="0.85"/>
<line x1="118.13" y1="578.30" x2="135.54" y2="568.45" stroke="#3c3c3c" stroke-width="0.85"/>
<line x1="120.79" y1="579.55" x2="135.24" y2="571.38" stroke="#3c3c3c" stroke-width="0.85"/>
<line x1="135.54" y1="568.45" x2="152.94" y2="578.30" stroke="#3c3c3c" stroke-width="0.85"/>
<line x1="152.94" y1="578.30" x2="152.94" y2="598.00" stroke="#3c3c3c" stroke-width="0.85"/>
<line x1="150.54" y1="580.00" x2="150.54" y2="596.30" stroke="#3c3c3c" stroke-width="0.85"/>
<line x1="152.94" y1="598.00" x2="135.54" y2="607.85" stroke="#3c3c3c" stroke-width="0.85"/>
<line x1="135.54" y1="607.85" x2="118.13" y2="598.00" stroke="#3c3c3c" stroke-width="0.85"/>
<line x1="135.24" y1="604.92" x2="120.79" y2="596.75" stroke="#3c3c3c" stroke-width="0.85"/>
<line x1="152.94" y1="578.30" x2="165.56" y2="571.16" stroke="#3c3c3c" stroke-width="0.85"/>
<text x="167.89" y="570.90" font-size="6.8" font-family='"Liberation Serif",serif' text-anchor="start" fill="#262626">OH</text>
<line x1="65.91" y1="607.85" x2="80.18" y2="599.77" stroke="#3c3c3c" stroke-width="0.85"/>
<line x1="86.45" y1="599.77" x2="100.72" y2="607.85" stroke="#3c3c3c" stroke-width="0.85"/>
<text x="80.86" y="600.45" font-size="6.8" font-family='"Liberation Serif",serif' text-anchor="start" fill="#262626">O</text>
<line x1="100.72" y1="607.85" x2="100.72" y2="627.55" stroke="#3c3c3c" stroke-width="0.85"/>
<line x1="100.72" y1="627.55" x2="83.31" y2="637.40" stroke="#3c3c3c" stroke-width="0.85"/>
<line x1="83.31" y1="637.40" x2="65.91" y2="627.55" stroke="#3c3c3c" stroke-width="0.85"/>
<line x1="100.72" y1="607.85" x2="118.13" y2="598.00" stroke="#3c3c3c" stroke-width="0.85"/>
<line x1="100.72" y1="627.55" x2="113.34" y2="634.69" stroke="#3c3c3c" stroke-width="0.85"/>
<text x="115.67" y="639.85" font-size="6.8" font-family='"Liberation Serif",serif' text-anchor="start" fill="#262626">OH</text>
<line x1="218.40" y1="49.10" x2="252.20" y2="49.10" stroke="#111" stroke-width="1.3" stroke-dasharray="4.8,2.4"/>
<polygon points="262.20,49.10 249.70,51.90 249.70,49.10 249.70,46.30" fill="#111"/>
<line x1="308.50" y1="114.00" x2="308.50" y2="146.30" stroke="#111" stroke-width="1.3" stroke-dasharray="4.8,2.4"/>
<polygon points="308.50,156.30 305.70,143.80 308.50,143.80 311.30,143.80" fill="#111"/>
<line x1="272.40" y1="132.60" x2="308.50" y2="155.60" stroke="#111" stroke-width="1.3"/>
<line x1="308.50" y1="203.70" x2="308.50" y2="235.40" stroke="#111" stroke-width="1.3"/>
<polygon points="308.50,245.40 305.70,232.90 308.50,232.90 311.30,232.90" fill="#111"/>
<line x1="245.80" y1="309.00" x2="165.80" y2="309.00" stroke="#111" stroke-width="1.3"/>
<polygon points="155.80,309.00 168.30,306.20 168.30,309.00 168.30,311.80" fill="#111"/>
<line x1="308.30" y1="342.00" x2="308.30" y2="400.50" stroke="#111" stroke-width="1.3"/>
<polygon points="308.30,410.50 305.50,398.00 308.30,398.00 311.10,398.00" fill="#111"/>
<line x1="353.60" y1="332.20" x2="480.54" y2="422.02" stroke="#111" stroke-width="1.3"/>
<polygon points="488.70,427.80 476.88,422.87 478.50,420.58 480.11,418.29" fill="#111"/>
<line x1="246.30" y1="429.40" x2="167.20" y2="429.40" stroke="#111" stroke-width="1.3"/>
<polygon points="157.20,429.40 169.70,426.60 169.70,429.40 169.70,432.20" fill="#111"/>
<line x1="308.50" y1="527.00" x2="308.50" y2="579.00" stroke="#111" stroke-width="1.3"/>
<polygon points="308.50,589.00 305.70,576.50 308.50,576.50 311.30,576.50" fill="#111"/>
<line x1="246.00" y1="595.00" x2="166.20" y2="595.00" stroke="#111" stroke-width="1.3"/>
<polygon points="156.20,595.00 168.70,592.20 168.70,595.00 168.70,597.80" fill="#111"/>
<line x1="516.30" y1="486.70" x2="516.30" y2="528.00" stroke="#111" stroke-width="1.3"/>
<polygon points="516.30,538.00 513.50,525.50 516.30,525.50 519.10,525.50" fill="#111"/>
<text x="88.5" y="84.5" font-size="15.35" font-family='"Liberation Serif",serif' text-anchor="start" fill="#181818" stroke="#181818" stroke-width="0.22">Phenylalanine</text>
<text x="328" y="86" font-size="15.35" font-family='"Liberation Serif",serif' text-anchor="start" fill="#181818" stroke="#181818" stroke-width="0.22">4-coumaroyl-CoA</text>
<text x="165" y="126.2" font-size="15.35" font-family='"Liberation Serif",serif' text-anchor="start" fill="#181818" stroke="#181818" stroke-width="0.22">3 × Malonyl-CoA</text>
<text x="313.6" y="135.5" font-size="15.35" font-family='"Liberation Serif",serif' text-anchor="start" fill="#181818" stroke="#181818" stroke-width="0.22">Chalcone synthase</text>
<text x="345.8" y="183" font-size="15.35" font-family='"Liberation Serif",serif' text-anchor="start" fill="#181818" stroke="#181818" stroke-width="0.22">Naringenin chalcone</text>
<text x="316" y="231.6" font-size="15.35" font-family='"Liberation Serif",serif' text-anchor="start" fill="#181818" stroke="#181818" stroke-width="0.22">Chalcone isomerase</text>
<text x="201.6" y="282.2" font-size="15.35" font-family='"Liberation Serif",serif' text-anchor="middle" fill="#181818" stroke="#181818" stroke-width="0.22">Flavone</text>
<text x="201.6" y="304" font-size="15.35" font-family='"Liberation Serif",serif' text-anchor="middle" fill="#181818" stroke="#181818" stroke-width="0.22">synthase I</text>
<text x="201.6" y="325.5" font-size="15.35" font-family='"Liberation Serif",serif' text-anchor="middle" fill="#181818" stroke="#181818" stroke-width="0.22">Flavone</text>
<text x="201.6" y="347" font-size="15.35" font-family='"Liberation Serif",serif' text-anchor="middle" fill="#181818" stroke="#181818" stroke-width="0.22">synthase II</text>
<text x="66" y="363" font-size="15.35" font-family='"Liberation Serif",serif' text-anchor="start" fill="#181818" stroke="#181818" stroke-width="0.22">Apigenin</text>
<text x="66" y="384.3" font-size="15.35" font-family='"Liberation Serif",serif' text-anchor="start" fill="#181818" stroke="#181818" stroke-width="0.22">Flavone</text>
<text x="356" y="330.6" font-size="15.35" font-family='"Liberation Serif",serif' text-anchor="start" fill="#181818" stroke="#181818" stroke-width="0.22">Naringenin</text>
<text x="359" y="352" font-size="15.35" font-family='"Liberation Serif",serif' text-anchor="start" fill="#181818" stroke="#181818" stroke-width="0.22">Flavanone</text>
<text x="329" y="383.8" font-size="15.35" font-family='"Liberation Serif",serif' text-anchor="start" fill="#181818" stroke="#181818" stroke-width="0.22">Flavanone</text>
<text x="317.2" y="405" font-size="15.35" font-family='"Liberation Serif",serif' text-anchor="start" fill="#181818" stroke="#181818" stroke-width="0.22">3-hydroxylase</text>
<text x="445" y="386.9" font-size="15.35" font-family='"Liberation Serif",serif' text-anchor="start" fill="#181818" stroke="#181818" stroke-width="0.22">Flavanone 4-reductase</text>
<text x="173.6" y="427.2" font-size="15.35" font-family='"Liberation Serif",serif' text-anchor="start" fill="#181818" stroke="#181818" stroke-width="0.22">Flavonol</text>
<text x="173.6" y="449.2" font-size="15.35" font-family='"Liberation Serif",serif' text-anchor="start" fill="#181818" stroke="#181818" stroke-width="0.22">synthase</text>
<text x="65" y="508" font-size="15.35" font-family='"Liberation Serif",serif' text-anchor="start" fill="#181818" stroke="#181818" stroke-width="0.22">Kaempferol</text>
<text x="77" y="530" font-size="15.35" font-family='"Liberation Serif",serif' text-anchor="start" fill="#181818" stroke="#181818" stroke-width="0.22">Flavone</text>
<text x="255" y="493" font-size="15.35" font-family='"Liberation Serif",serif' text-anchor="start" fill="#181818" stroke="#181818" stroke-width="0.22">Dihydrokaempfenol</text>
<text x="266" y="515" font-size="15.35" font-family='"Liberation Serif",serif' text-anchor="start" fill="#181818" stroke="#181818" stroke-width="0.22">Dihydroflavonol</text>
<text x="562" y="460.4" font-size="15.35" font-family='"Liberation Serif",serif' text-anchor="start" fill="#181818" stroke="#181818" stroke-width="0.22">Apiforol</text>
<text x="522" y="506.8" font-size="15.35" font-family='"Liberation Serif",serif' text-anchor="start" fill="#181818" stroke="#181818" stroke-width="0.22">Anthocyanidin</text>
<text x="522" y="529.3" font-size="15.35" font-family='"Liberation Serif",serif' text-anchor="start" fill="#181818" stroke="#181818" stroke-width="0.22">synthase</text>
<text x="316" y="554" font-size="15.35" font-family='"Liberation Serif",serif' text-anchor="start" fill="#181818" stroke="#181818" stroke-width="0.22">Dihydroflavonol</text>
<clipPath id="cl1"><rect x="300" y="556" width="120" height="17.7"/></clipPath><g clip-path="url(#cl1)">
<text x="316" y="575.5" font-size="15.35" font-family='"Liberation Serif",serif' text-anchor="start" fill="#181818" stroke="#181818" stroke-width="0.22">4-reductase</text>
</g>
<text x="512.4" y="604.6" font-size="15.35" font-family='"Liberation Serif",serif' text-anchor="start" fill="#181818" stroke="#181818" stroke-width="0.22">Apigeninidin</text>
<text x="482" y="626.5" font-size="15.35" font-family='"Liberation Serif",serif' text-anchor="start" fill="#181818" stroke="#181818" stroke-width="0.22">3-Deoxyanthocyanidin</text>
<text x="160" y="611" font-size="15.35" font-family='"Liberation Serif",serif' text-anchor="start" fill="#181818" stroke="#181818" stroke-width="0.22">Anthocyanidin</text>
<text x="179" y="633.2" font-size="15.35" font-family='"Liberation Serif",serif' text-anchor="start" fill="#181818" stroke="#181818" stroke-width="0.22">synthase</text>
<text x="63" y="657.5" font-size="15.35" font-family='"Liberation Serif",serif' text-anchor="start" fill="#181818" stroke="#181818" stroke-width="0.22">Afzelechin</text>
<text x="70" y="679.5" font-size="15.35" font-family='"Liberation Serif",serif' text-anchor="start" fill="#181818" stroke="#181818" stroke-width="0.22">Flavanol</text>
<text x="251" y="658" font-size="15.35" font-family='"Liberation Serif",serif' text-anchor="start" fill="#181818" stroke="#181818" stroke-width="0.22">Leucopelargonidin</text>
<text x="246" y="680" font-size="15.35" font-family='"Liberation Serif",serif' text-anchor="start" fill="#181818" stroke="#181818" stroke-width="0.22">Leucoanthocyanidin</text>
</svg></body></html>
